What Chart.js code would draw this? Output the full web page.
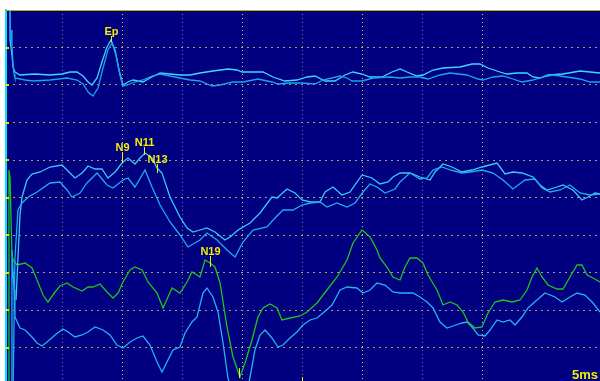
<!DOCTYPE html>
<html>
<head>
<meta charset="utf-8">
<script src="https://cdn.jsdelivr.net/npm/chart.js@4/dist/chart.umd.min.js"></script>
<style>
  html, body { margin: 0; padding: 0; background: #ffffff; overflow: hidden; }
  canvas { display: block; }
</style>
</head>
<body>
<canvas id="c" width="600" height="381"></canvas>
<script>
// Time axis in ms (5 ms per division), amplitude in arbitrary units (3 units per division).
// Each trace: [time ms, amplitude]
const traceTopA = [[0.67,30.4],[0.67,27.6],[0.83,26.4],[0.92,25.44],[1.08,25.04],[1.5,24.8],[2.75,24.88],[4.0,24.8],[5.0,24.88],[5.67,25.04],[6.25,25.04],[6.75,24.72],[7.17,24.24],[7.5,24.0],[7.92,24.56],[8.33,25.84],[8.75,27.04],[9.08,27.6],[9.42,26.8],[9.75,25.2],[10.08,24.0],[10.5,24.24],[10.92,24.4],[11.33,24.32],[11.75,24.24],[12.33,24.56],[13.17,24.96],[14.0,24.88],[14.83,24.8],[15.67,24.8],[16.5,24.96],[17.58,25.12],[18.83,25.28],[19.58,25.2],[20.0,25.04],[21.75,25.04],[22.58,24.64],[23.58,24.32],[24.58,24.4],[25.42,24.64],[26.08,24.72],[26.92,24.32],[27.75,24.32],[28.58,24.8],[29.25,25.04],[30.0,24.88],[30.67,24.64],[31.67,24.64],[32.5,25.04],[33.17,25.28],[33.75,25.04],[34.58,24.72],[35.08,24.8],[35.92,25.2],[36.75,25.36],[38.17,25.44],[39.17,25.68],[39.83,25.68],[40.5,25.36],[41.5,25.04],[42.08,24.88],[42.92,24.96],[43.75,24.96],[44.25,24.64],[44.83,24.56],[45.5,24.8],[46.75,24.88],[48.17,25.12],[49.0,25.04],[49.83,24.96]];
const traceTopB = [[0.75,28.4],[0.83,27.2],[0.92,25.6],[1.0,24.88],[1.08,24.56],[1.92,24.4],[2.58,24.32],[4.0,24.4],[5.42,24.56],[6.25,24.4],[6.75,24.08],[7.17,23.44],[7.58,23.12],[8.0,23.76],[8.42,25.36],[8.83,26.8],[9.17,27.36],[9.5,26.4],[9.83,24.8],[10.08,23.92],[10.42,24.0],[11.08,24.24],[11.75,24.4],[12.5,24.72],[13.17,24.88],[14.0,24.72],[14.83,24.56],[15.67,24.4],[16.5,24.32],[17.5,23.92],[18.17,24.0],[19.25,24.24],[20.08,24.24],[21.33,24.48],[22.5,24.24],[23.0,24.08],[23.83,24.16],[25.0,24.16],[26.08,24.08],[26.75,24.4],[28.17,24.72],[28.75,24.56],[29.17,24.32],[30.0,24.32],[30.92,24.56],[32.33,24.64],[33.17,24.56],[34.0,24.64],[34.83,24.64],[35.5,24.48],[36.5,24.8],[37.33,24.96],[38.75,24.8],[39.67,24.48],[40.08,24.4],[40.92,24.64],[41.75,24.72],[42.58,24.48],[43.33,24.24],[44.25,24.4],[45.08,24.64],[45.92,24.8],[47.08,24.64],[48.17,24.48],[49.0,24.24],[49.83,24.24]];
const traceMidA = [[1.17,6.8],[1.33,10.16],[1.5,13.6],[1.67,15.04],[2.08,16.4],[2.5,16.88],[3.17,17.04],[4.0,17.44],[5.0,17.6],[5.83,16.8],[6.08,16.56],[6.67,16.96],[7.17,17.52],[7.75,17.28],[8.33,17.28],[8.83,16.56],[9.42,17.04],[10.0,17.76],[10.5,18.16],[11.08,17.68],[11.5,18.16],[11.92,18.56],[12.5,18.16],[12.92,17.36],[13.33,16.96],[14.0,15.04],[14.83,13.44],[15.42,12.56],[15.92,12.24],[16.5,12.4],[17.08,12.56],[17.75,12.24],[18.58,11.6],[19.0,11.84],[19.67,12.4],[20.67,12.96],[21.5,13.76],[22.5,15.04],[22.92,14.96],[23.75,15.68],[24.42,15.36],[25.0,14.8],[25.67,14.64],[26.5,14.64],[26.92,15.44],[27.58,15.84],[28.33,15.2],[29.0,15.44],[30.0,16.8],[30.83,16.56],[31.5,16.08],[32.17,16.24],[32.58,16.64],[33.17,16.96],[34.0,16.96],[34.83,16.64],[35.67,16.4],[36.08,17.04],[36.75,17.68],[37.5,17.44],[38.33,17.04],[39.17,17.2],[40.0,17.44],[41.25,17.76],[41.92,16.88],[42.58,17.04],[43.33,16.96],[44.25,16.64],[44.83,16.0],[45.42,15.6],[46.25,15.84],[46.75,16.0],[47.58,15.6],[48.33,14.8],[48.83,15.04],[49.42,15.36],[49.83,15.28]];
const traceMidB = [[0.92,-0.8],[1.08,10.16],[1.33,14.0],[1.67,14.56],[1.92,14.8],[2.33,15.12],[2.92,15.44],[4.0,16.16],[4.83,16.24],[5.42,15.6],[5.83,15.04],[6.5,15.36],[7.08,16.16],[7.92,16.96],[8.75,16.0],[9.25,15.76],[10.08,16.4],[10.5,16.56],[11.08,15.84],[11.92,17.2],[12.5,15.84],[13.17,14.4],[14.0,13.04],[14.83,12.0],[15.5,11.04],[16.5,11.6],[17.08,12.16],[17.92,11.6],[18.75,10.8],[19.42,10.24],[20.08,11.44],[20.92,12.4],[22.08,12.64],[22.75,13.36],[23.42,14.0],[24.25,14.0],[25.0,14.4],[25.67,14.56],[26.5,14.64],[27.08,14.24],[27.92,14.56],[28.75,14.24],[29.42,14.56],[30.08,15.44],[30.67,16.08],[31.25,15.84],[31.92,15.36],[32.75,15.68],[33.17,16.24],[34.0,16.96],[34.83,16.48],[35.42,16.56],[35.92,17.2],[36.67,17.44],[37.33,17.2],[38.33,16.96],[39.0,17.04],[40.0,17.2],[40.92,16.96],[41.75,16.4],[42.58,15.68],[43.58,16.4],[44.42,16.48],[45.0,15.76],[45.67,15.44],[46.5,15.6],[47.33,16.0],[48.17,15.36],[49.0,15.2],[49.83,15.28]];
const traceGreen = [[0.5,-0.8],[0.58,17.2],[0.67,16.56],[0.83,10.4],[0.92,10.0],[1.25,9.6],[1.92,9.76],[2.5,9.36],[2.92,8.4],[3.42,7.2],[3.83,6.64],[4.42,7.44],[4.83,7.92],[5.42,8.16],[5.92,7.84],[6.67,7.52],[7.17,7.84],[7.58,7.84],[8.17,8.08],[8.75,7.44],[9.25,6.96],[9.67,7.36],[10.08,8.24],[10.67,9.2],[11.08,9.44],[11.67,9.2],[12.17,8.24],[12.92,7.36],[13.42,6.16],[13.83,7.04],[14.17,7.76],[14.83,7.36],[15.42,8.24],[15.83,9.04],[16.25,8.8],[16.5,8.64],[16.92,10.0],[17.33,9.76],[17.75,9.44],[18.17,8.16],[18.75,4.64],[19.25,2.24],[19.83,0.64],[20.25,1.76],[20.83,3.6],[21.33,5.44],[21.75,6.16],[22.33,6.48],[22.92,6.16],[23.33,5.2],[24.0,5.36],[24.83,5.52],[25.42,5.84],[26.25,6.56],[27.08,7.6],[27.92,8.64],[28.75,10.0],[29.25,11.36],[30.0,12.4],[30.67,11.84],[31.25,10.8],[31.5,10.16],[32.08,9.44],[32.58,8.64],[33.17,8.4],[33.58,9.44],[34.0,10.16],[34.58,10.16],[35.08,9.76],[35.5,8.8],[36.25,7.6],[36.75,6.4],[37.33,6.64],[37.92,6.4],[38.42,5.84],[38.83,5.04],[39.42,4.56],[40.0,4.64],[40.5,5.76],[41.08,6.64],[41.75,6.8],[42.5,6.64],[43.17,6.8],[43.75,7.6],[44.17,8.64],[44.58,9.36],[45.0,8.64],[45.5,8.0],[46.25,7.68],[46.75,7.68],[47.33,8.64],[47.92,9.6],[48.33,9.6],[48.75,8.8],[49.25,8.56],[49.83,8.24]];
const traceLow = [[0.75,-0.8],[0.83,10.8],[1.0,7.6],[1.08,5.44],[1.5,4.56],[1.92,4.4],[2.5,3.84],[2.92,3.36],[3.33,3.12],[3.75,3.44],[4.42,4.0],[5.08,4.48],[5.5,4.24],[6.08,3.84],[6.67,4.0],[7.17,4.24],[7.75,4.64],[8.42,4.4],[9.0,4.0],[9.58,3.2],[10.08,2.96],[10.67,3.44],[11.25,3.76],[11.75,3.92],[12.33,3.2],[12.92,1.84],[13.33,1.04],[13.83,2.0],[14.25,2.8],[14.83,3.04],[15.25,4.16],[15.83,5.04],[16.25,5.44],[16.5,6.4],[16.75,7.36],[17.08,7.76],[17.58,7.04],[18.0,5.84],[18.42,3.36],[18.83,0.56],[19.25,-0.8],[19.83,-1.2],[20.42,-0.56],[20.67,0.64],[21.08,2.8],[21.5,4.0],[21.92,4.4],[22.5,3.76],[23.0,3.04],[23.42,3.2],[24.0,3.76],[24.58,4.24],[25.08,4.8],[25.67,5.2],[26.25,5.36],[26.75,5.76],[27.5,6.4],[28.17,7.6],[28.75,7.84],[29.58,7.76],[30.08,7.36],[30.67,7.6],[31.25,8.16],[31.92,8.0],[32.58,7.44],[33.17,7.36],[33.75,7.36],[34.25,7.36],[34.83,7.04],[35.42,6.64],[35.92,6.16],[36.5,5.04],[37.08,4.56],[37.58,4.72],[38.33,4.96],[38.75,5.04],[39.17,4.64],[39.67,4.0],[40.25,3.92],[40.67,4.4],[41.25,5.2],[41.75,5.04],[42.33,5.2],[42.75,4.8],[43.33,5.44],[43.83,6.16],[44.58,6.8],[45.25,7.36],[46.08,7.04],[46.67,6.64],[47.33,7.04],[47.92,7.36],[48.58,7.2],[49.25,6.56],[49.83,5.84]];

// Peak markers: label, time (ms), marker top / bottom amplitude
const peakLabels  = ['Ep', 'N9', 'N11', 'N13', 'N19', '', ''];
const peakTimes   = [9.08, 10.0, 11.83, 12.92, 17.33, 19.75, 25.0];
const peakTopVals = [27.92, 18.64, 19.04, 17.68, 10.32, 1.36, 0.64];
const peakBotVals = [27.44, 17.76, 18.4, 16.96, 9.44, 0.56, 0.2];
const sweepLabel = '5ms';

const xMin = 0.333, xMax = 49.833, yMin = 0.32, yMax = 30;

const toXY = arr => arr.map(p => ({x: p[0], y: p[1]}));

const bgPlugin = {
  id: 'bg',
  beforeDraw(chart) {
    const {ctx, chartArea: a} = chart;
    ctx.save();
    ctx.fillStyle = '#ffffff';
    ctx.fillRect(0, 0, chart.width, chart.height);
    ctx.fillStyle = '#000080';
    ctx.fillRect(a.left, a.top, a.right - a.left, a.bottom - a.top);
    ctx.restore();
  },
  afterDraw(chart) {
    const {ctx, chartArea: a, scales} = chart;
    const xs = scales.x, ys = scales.y;
    ctx.save();
    // top frame line
    ctx.strokeStyle = '#b4b400';
    ctx.lineWidth = 1;
    ctx.beginPath();
    ctx.moveTo(a.left - 1, a.top + 0.5);
    ctx.lineTo(a.right, a.top + 0.5);
    ctx.stroke();
    // left tick marks
    ctx.fillStyle = '#e6e600';
    ys.ticks.forEach(t => {
      const y = Math.round(ys.getPixelForValue(t.value));
      ctx.fillRect(a.left - 1, y - 1, 4, 2);
    });
    // peak markers
    ctx.strokeStyle = '#f0f000';
    ctx.fillStyle = '#f0f000';
    ctx.font = 'bold 11px "Liberation Sans", Arial, sans-serif';
    ctx.textAlign = 'center';
    ctx.textBaseline = 'alphabetic';
    peakTimes.forEach((t, i) => {
      const x = Math.round(xs.getPixelForValue(t)) + 0.5;
      const y1 = ys.getPixelForValue(peakTopVals[i]);
      const y2 = ys.getPixelForValue(peakBotVals[i]);
      ctx.beginPath();
      ctx.moveTo(x, y1);
      ctx.lineTo(x, y2);
      ctx.stroke();
      if (peakLabels[i]) ctx.fillText(peakLabels[i], x, y1 - 1);
    });
    ctx.font = 'bold 13px "Liberation Sans", Arial, sans-serif';
    ctx.textAlign = 'right';
    ctx.fillText(sweepLabel, a.right - 2, a.bottom - 2);
    ctx.restore();
  }
};

const lineDs = (data, color) => ({
  data: toXY(data), borderColor: color, borderWidth: 1.3, pointRadius: 0,
  tension: 0, fill: false
});

new Chart(document.getElementById('c'), {
  type: 'line',
  data: {
    datasets: [
      lineDs(traceTopB, '#1aa6e6'),
      lineDs(traceTopA, '#3cd8ff'),
      lineDs(traceMidB, '#1eaee8'),
      lineDs(traceMidA, '#34ccf8'),
      lineDs(traceGreen, '#1ec41e'),
      lineDs(traceLow, '#22b4ec')
    ]
  },
  options: {
    responsive: false,
    animation: false,
    events: [],
    layout: {padding: {left: 6, top: 10, right: 0, bottom: 0}},
    plugins: {legend: {display: false}, tooltip: {enabled: false}},
    scales: {
      x: {
        type: 'linear', min: xMin, max: xMax,
        afterFit: s => { s.height = 0; },
        afterBuildTicks: s => { s.ticks = s.ticks.filter(t => t.value > 1 && t.value < 49.5 && Math.abs(t.value % 5) < 1e-6); },
        ticks: {display: false, stepSize: 5},
        grid: {drawTicks: false, lineWidth: 1,
               color: c => (c.tick && Math.round(c.tick.value) % 10 === 0) ? '#cccc3c' : '#7e7e8c'},
        border: {display: false, dash: [1, 3]}
      },
      y: {
        type: 'linear', min: yMin, max: yMax,
        afterFit: s => { s.width = 0; },
        afterBuildTicks: s => { s.ticks = s.ticks.filter(t => t.value > 1 && t.value < 29 && Math.abs(t.value % 3) < 1e-6); },
        ticks: {display: false, stepSize: 3},
        grid: {drawTicks: false, lineWidth: 1, color: '#a4a45c'},
        border: {display: true, color: '#00e4ff', width: 2, dash: [2, 4]}
      }
    }
  },
  plugins: [bgPlugin]
});
</script>
</body>
</html>
